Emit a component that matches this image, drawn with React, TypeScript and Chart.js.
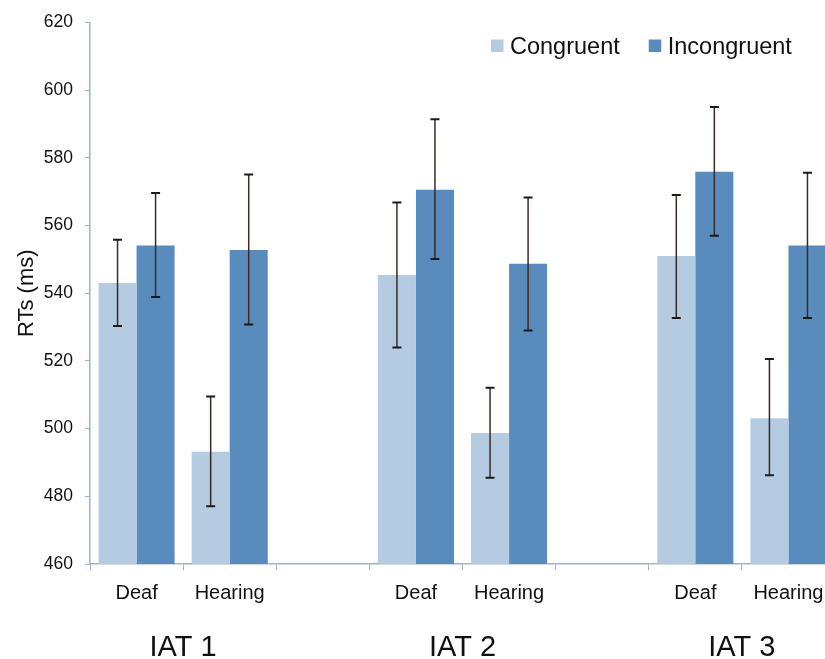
import React, { useEffect, useRef } from "react";
import { Chart, registerables } from "chart.js";

Chart.register(...registerables);

const categories = ["Deaf", "Hearing", "", "Deaf", "Hearing", "", "Deaf", "Hearing"];
const congruent = [543, 493.2, null, 545.4, 498.7, null, 551, 503.1];
const congruentHigh = [555.8, 509.5, null, 566.8, 512.1, null, 569, 520.6];
const congruentLow = [530.3, 477.1, null, 524, 485.5, null, 532.7, 486.2];
const incongruent = [554.1, 552.8, null, 570.6, 548.7, null, 575.9, 554.1];
const incongruentHigh = [569.6, 575.1, null, 591.4, 568.3, null, 595, 575.6];
const incongruentLow = [538.9, 530.8, null, 550.1, 529, null, 557, 532.7];
const groupLabels = ["IAT 1", "IAT 2", "IAT 3"];
const groupStart = [0, 3, 6];
const groupEnd = [1, 4, 7];
const yMin = 460;
const yMax = 620;
const yStep = 20;

const FONT = "'Liberation Sans', Arial, Helvetica, sans-serif";
const LIGHT = "#b4cbe2";
const DARK = "#5a8bbd";
const AXIS = "#9db4c9";

const errorHigh = [congruentHigh, incongruentHigh];
const errorLow = [congruentLow, incongruentLow];

const errorBarPlugin = {
  id: "errorBars",
  afterDatasetsDraw(chart: any) {
    const ctx = chart.ctx;
    const y = chart.scales.y;
    chart.data.datasets.forEach((_: any, di: number) => {
      const meta = chart.getDatasetMeta(di);
      meta.data.forEach((el: any, i: number) => {
        const hi = errorHigh[di][i];
        const lo = errorLow[di][i];
        if (hi == null || lo == null) return;
        const x = el.x;
        const yh = y.getPixelForValue(hi);
        const yl = y.getPixelForValue(lo);
        ctx.save();
        ctx.lineWidth = 1.5;
        ctx.strokeStyle = "#3b2a24";
        ctx.beginPath();
        ctx.moveTo(x, yh);
        ctx.lineTo(x, yl);
        ctx.stroke();
        ctx.strokeStyle = "#1a1a1a";
        ctx.lineWidth = 2;
        ctx.beginPath();
        ctx.moveTo(x - 4.5, yh);
        ctx.lineTo(x + 4.5, yh);
        ctx.moveTo(x - 4.5, yl);
        ctx.lineTo(x + 4.5, yl);
        ctx.stroke();
        ctx.restore();
      });
    });
  },
};

const groupLabelPlugin = {
  id: "groupLabels",
  afterDraw(chart: any) {
    const ctx = chart.ctx;
    const x = chart.scales.x;
    const area = chart.chartArea;
    ctx.save();
    ctx.fillStyle = "#111";
    ctx.font = `29px ${FONT}`;
    ctx.textAlign = "center";
    ctx.textBaseline = "middle";
    groupLabels.forEach((lab, g) => {
      const cx = (x.getPixelForValue(groupStart[g]) + x.getPixelForValue(groupEnd[g])) / 2;
      ctx.fillText(lab, cx, area.bottom + 84);
    });
    ctx.restore();
  },
};

const legendPlugin = {
  id: "customLegend",
  afterDraw(chart: any) {
    const ctx = chart.ctx;
    const area = chart.chartArea;
    ctx.save();
    ctx.font = `23.5px ${FONT}`;
    ctx.textBaseline = "middle";
    ctx.textAlign = "left";
    const yMid = area.top + 25;
    let xPos = area.left + 401;
    chart.data.datasets.forEach((ds: any) => {
      ctx.fillStyle = ds.backgroundColor;
      ctx.fillRect(xPos, yMid - 8, 12.5, 12.5);
      ctx.fillStyle = "#111";
      ctx.fillText(ds.label, xPos + 19, yMid);
      xPos += 19 + ctx.measureText(ds.label).width + 29;
    });
    ctx.restore();
  },
};

export default function App() {
  const ref = useRef<HTMLCanvasElement | null>(null);
  useEffect(() => {
    if (!ref.current) return;
    const chart = new Chart(ref.current, {
      type: "bar",
      data: {
        labels: categories,
        datasets: [
          { label: "Congruent", data: congruent, backgroundColor: LIGHT },
          { label: "Incongruent", data: incongruent, backgroundColor: DARK },
        ],
      },
      options: {
        responsive: false,
        animation: false,
        devicePixelRatio: 1,
        layout: { padding: { left: 0, right: 10, top: 20, bottom: 0 } },
        datasets: { bar: { categoryPercentage: 0.817, barPercentage: 1.0 } },
        plugins: { legend: { display: false }, tooltip: { enabled: false } },
        scales: {
          x: {
            afterFit: (s: any) => {
              s.height = 95;
            },
            grid: { display: true, drawOnChartArea: false, drawTicks: true, tickLength: 6, color: AXIS, offset: true },
            border: { display: true, color: AXIS, width: 1.5 },
            ticks: { color: "#111", font: { family: FONT, size: 20 }, padding: 11, maxRotation: 0, autoSkip: false },
          },
          y: {
            min: yMin,
            max: yMax,
            afterFit: (s: any) => {
              s.width = 90;
            },
            grid: { display: true, drawOnChartArea: false, drawTicks: true, tickLength: 5, color: AXIS },
            border: { display: true, color: AXIS, width: 1.5 },
            ticks: { stepSize: yStep, color: "#111", font: { family: FONT, size: 17.5 }, padding: 12 },
            title: {
              display: true,
              text: "RTs (ms)",
              color: "#111",
              font: { family: FONT, size: 22 },
              padding: { top: 14, bottom: 0 },
            },
          },
        },
      },
      plugins: [errorBarPlugin, groupLabelPlugin, legendPlugin],
    });
    return () => chart.destroy();
  }, []);
  return (
    <div style={{ position: "absolute", left: 0, top: 0, width: 825, height: 659, overflow: "hidden", background: "#fff" }}>
      <canvas ref={ref} width={845} height={659} style={{ width: 845, height: 659, display: "block" }} />
    </div>
  );
}
